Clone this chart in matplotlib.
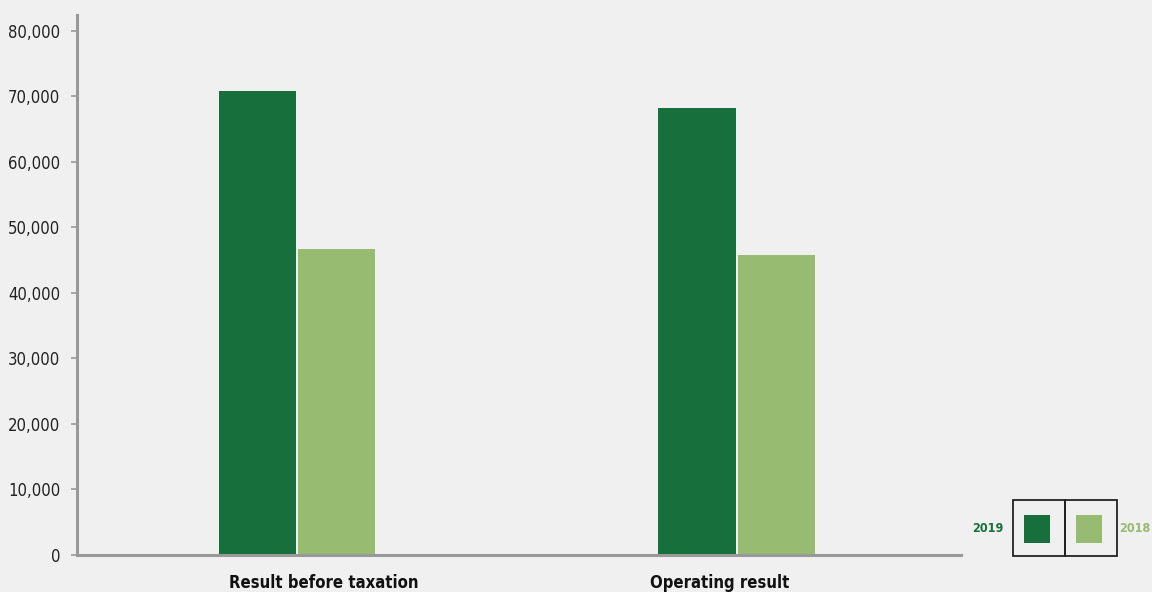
import matplotlib
matplotlib.use('Agg')
import matplotlib.pyplot as plt
from matplotlib.patches import Rectangle
import numpy as np

categories = ['Result before taxation', 'Operating result']
years = ['2019', '2018']
values_2019 = [70800, 68200]
values_2018 = [46700, 45800]
colors = ['#17703b', '#98bb72']
yticks = [0, 10000, 20000, 30000, 40000, 50000, 60000, 70000, 80000]

plt.rcParams['font.family'] = ['DejaVu Sans']
plt.rcParams['font.stretch'] = 'condensed'

bg = '#f0f0f0'
fig = plt.figure(figsize=(11.52, 5.92), dpi=100, facecolor=bg)
ax = fig.add_axes([0.0668, 0.0625, 0.7674, 0.9122], facecolor=bg)

x = np.arange(len(categories))
w = 0.176
ax.bar(x - w / 2 - 0.002, values_2019, w, color=colors[0], edgecolor='none')
ax.bar(x + w / 2 + 0.002, values_2018, w, color=colors[1], edgecolor='none')

ax.set_xlim(-0.5, 1.51)
ax.set_ylim(0, 82443)
ax.set_yticks(yticks)
ax.set_yticklabels([f'{v:,}' for v in yticks], fontsize=12, color='#222222')
ax.tick_params(axis='y', length=4, width=1.2, color='#999999', pad=8)
# category labels sit a bit off the group centres in the original
ax.set_xticks(x + np.array([0.062, -0.039]))
ax.set_xticklabels(categories, fontsize=12, fontweight='bold', color='#111111')
ax.tick_params(axis='x', length=0, pad=14)

for s in ['top', 'right']:
    ax.spines[s].set_visible(False)
for s in ['left', 'bottom']:
    ax.spines[s].set_color('#999999')
    ax.spines[s].set_linewidth(2.2)

# legend boxes
H, W = 592, 1152
def fx(px):
    return px / W
def fy(py):
    return 1 - py / H

for i, (yr, c) in enumerate(zip(years, colors)):
    x0 = 1013 + i * 52
    fig.patches.append(Rectangle((fx(x0), fy(556)), fx(52), 56 / H, transform=fig.transFigure,
                                 facecolor='none', edgecolor='#222222', linewidth=1.3))
    fig.patches.append(Rectangle((fx(x0 + 11), fy(543)), fx(26), 28 / H, transform=fig.transFigure,
                                 facecolor=c, edgecolor='none'))

fig.text(fx(988), fy(529), years[0], color=colors[0], fontsize=9, fontweight='bold',
         ha='center', va='center')
fig.text(fx(1151), fy(529), years[1], color=colors[1], fontsize=9, fontweight='bold',
         ha='right', va='center')

fig.savefig('out.png', dpi=100, facecolor=bg)
